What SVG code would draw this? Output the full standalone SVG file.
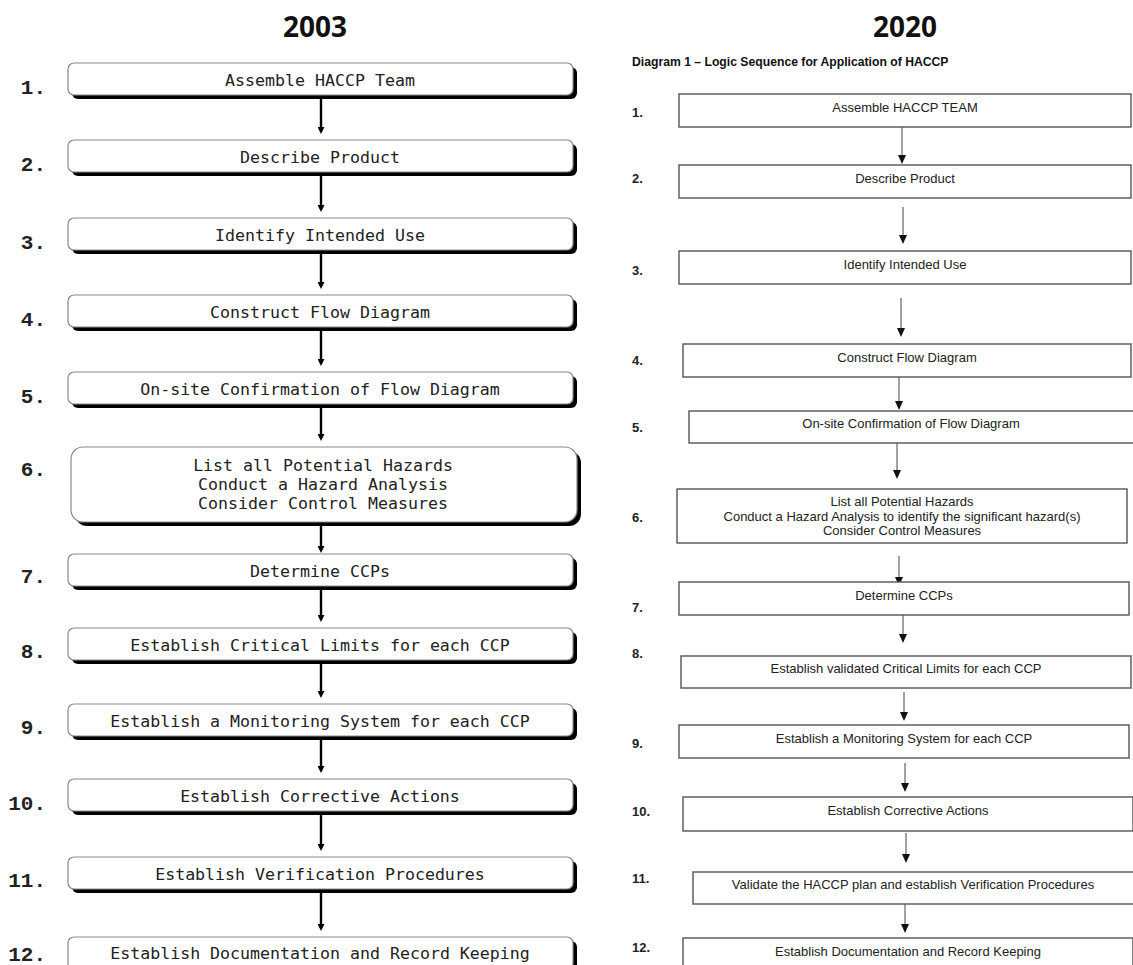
<svg xmlns="http://www.w3.org/2000/svg" width="1133" height="965" viewBox="0 0 1133 965">
<defs>
<style>
.yr{font-family:"Open Sans","DejaVu Sans",sans-serif;font-weight:700;font-size:28px;fill:#111;text-anchor:middle}
.ln{font-family:"Liberation Mono","Courier New",monospace;font-weight:700;font-size:21px;fill:#222;text-anchor:end}
.lt{font-family:"DejaVu Sans Mono",monospace;font-size:16.6px;fill:#222;text-anchor:middle}
.sh{fill:#000}
.lb{fill:#fff;stroke:#8a8a8a;stroke-width:1.2}
.rn{font-family:"Liberation Sans",Arial,sans-serif;font-weight:700;font-size:13px;fill:#222}
.rt{font-family:"Liberation Sans",Arial,sans-serif;font-size:13px;fill:#222;text-anchor:middle}
.rb{fill:#fff;stroke:#555;stroke-width:1.4}
.la{stroke:#000;stroke-width:2.4;fill:none}
.ra{stroke:#444;stroke-width:1;fill:none}
</style>
<marker id="ahL" markerUnits="userSpaceOnUse" viewBox="0 0 7 7" markerWidth="7" markerHeight="7" refX="4" refY="3.5" orient="auto"><path d="M0,0 L7,3.5 L0,7 z" fill="#000"/></marker>
<marker id="ahR" markerUnits="userSpaceOnUse" viewBox="0 0 9 8" markerWidth="9" markerHeight="8" refX="7" refY="4" orient="auto"><path d="M0,0 L9,4 L0,8 z" fill="#111"/></marker>
</defs>
<rect width="1133" height="965" fill="#fff"/>

<text class="yr" x="315" y="37">2003</text>
<text class="yr" x="905" y="37">2020</text>
<text x="632" y="66" font-family="Liberation Sans, Arial, sans-serif" font-weight="700" font-size="12.2" fill="#111">Diagram 1 – Logic Sequence for Application of HACCP</text>

<g id="connectors-2003">
<path class="la" d="M321,99 V131" marker-end="url(#ahL)"/>
<path class="la" d="M321,176 V209" marker-end="url(#ahL)"/>
<path class="la" d="M321,254 V286" marker-end="url(#ahL)"/>
<path class="la" d="M321,331 V363" marker-end="url(#ahL)"/>
<path class="la" d="M321,408 V438" marker-end="url(#ahL)"/>
<path class="la" d="M321,526 V550" marker-end="url(#ahL)"/>
<path class="la" d="M321,590 V619" marker-end="url(#ahL)"/>
<path class="la" d="M321,664 V695" marker-end="url(#ahL)"/>
<path class="la" d="M321,740 V770" marker-end="url(#ahL)"/>
<path class="la" d="M321,815 V848" marker-end="url(#ahL)"/>
<path class="la" d="M321,893 V928" marker-end="url(#ahL)"/>
</g>

<g id="connectors-2020">
<path class="ra" d="M902,127 V162" marker-end="url(#ahR)"/>
<path class="ra" d="M903,207 V242" marker-end="url(#ahR)"/>
<path class="ra" d="M901,298 V335" marker-end="url(#ahR)"/>
<path class="ra" d="M899,377 V408" marker-end="url(#ahR)"/>
<path class="ra" d="M897,443 V477" marker-end="url(#ahR)"/>
<path class="ra" d="M899,556 V584" marker-end="url(#ahR)"/>
<path class="ra" d="M903,615 V641" marker-end="url(#ahR)"/>
<path class="ra" d="M904,692 V719" marker-end="url(#ahR)"/>
<path class="ra" d="M905,763 V790" marker-end="url(#ahR)"/>
<path class="ra" d="M906,833 V861" marker-end="url(#ahR)"/>
<path class="ra" d="M905,904 V931" marker-end="url(#ahR)"/>
</g>

<g id="L1"><text class="ln" x="46" y="94">1.</text><rect class="sh" x="72" y="67" width="505" height="32" rx="6"/><rect class="lb" x="68" y="63" width="505" height="32" rx="6"/><text class="lt" x="320" y="86">Assemble HACCP Team</text></g>
<g id="L2"><text class="ln" x="46" y="171">2.</text><rect class="sh" x="72" y="144" width="505" height="32" rx="6"/><rect class="lb" x="68" y="140" width="505" height="32" rx="6"/><text class="lt" x="320" y="163">Describe Product</text></g>
<g id="L3"><text class="ln" x="46" y="249">3.</text><rect class="sh" x="72" y="222" width="505" height="32" rx="6"/><rect class="lb" x="68" y="218" width="505" height="32" rx="6"/><text class="lt" x="320" y="241">Identify Intended Use</text></g>
<g id="L4"><text class="ln" x="46" y="326">4.</text><rect class="sh" x="72" y="299" width="505" height="32" rx="6"/><rect class="lb" x="68" y="295" width="505" height="32" rx="6"/><text class="lt" x="320" y="318">Construct Flow Diagram</text></g>
<g id="L5"><text class="ln" x="46" y="403">5.</text><rect class="sh" x="72" y="376" width="505" height="32" rx="6"/><rect class="lb" x="68" y="372" width="505" height="32" rx="6"/><text class="lt" x="320" y="395">On-site Confirmation of Flow Diagram</text></g>
<g id="L6"><text class="ln" x="46" y="476">6.</text><rect class="sh" x="75" y="451" width="506" height="75" rx="12"/><rect class="lb" x="71" y="447" width="506" height="75" rx="12"/><text class="lt" x="323" y="471">List all Potential Hazards</text><text class="lt" x="323" y="490">Conduct a Hazard Analysis</text><text class="lt" x="323" y="509">Consider Control Measures</text></g>
<g id="L7"><text class="ln" x="46" y="583">7.</text><rect class="sh" x="72" y="558" width="505" height="32" rx="6"/><rect class="lb" x="68" y="554" width="505" height="32" rx="6"/><text class="lt" x="320" y="577">Determine CCPs</text></g>
<g id="L8"><text class="ln" x="46" y="658">8.</text><rect class="sh" x="72" y="632" width="505" height="32" rx="6"/><rect class="lb" x="68" y="628" width="505" height="32" rx="6"/><text class="lt" x="320" y="651">Establish Critical Limits for each CCP</text></g>
<g id="L9"><text class="ln" x="46" y="734">9.</text><rect class="sh" x="72" y="708" width="505" height="32" rx="6"/><rect class="lb" x="68" y="704" width="505" height="32" rx="6"/><text class="lt" x="320" y="727">Establish a Monitoring System for each CCP</text></g>
<g id="L10"><text class="ln" x="46" y="810">10.</text><rect class="sh" x="72" y="783" width="505" height="32" rx="6"/><rect class="lb" x="68" y="779" width="505" height="32" rx="6"/><text class="lt" x="320" y="802">Establish Corrective Actions</text></g>
<g id="L11"><text class="ln" x="46" y="887">11.</text><rect class="sh" x="72" y="861" width="505" height="32" rx="6"/><rect class="lb" x="68" y="857" width="505" height="32" rx="6"/><text class="lt" x="320" y="880">Establish Verification Procedures</text></g>
<g id="L12"><text class="ln" x="46" y="961">12.</text><rect class="sh" x="72" y="941" width="505" height="32" rx="6"/><rect class="lb" x="68" y="937" width="505" height="32" rx="6"/><text class="lt" x="320" y="959">Establish Documentation and Record Keeping</text></g>

<g id="R1"><text class="rn" x="632" y="117">1.</text><rect class="rb" x="679" y="94" width="452" height="33"/><text class="rt" x="905" y="112">Assemble HACCP TEAM</text></g>
<g id="R2"><text class="rn" x="632" y="183">2.</text><rect class="rb" x="679" y="165" width="452" height="33"/><text class="rt" x="905" y="183">Describe Product</text></g>
<g id="R3"><text class="rn" x="632" y="275">3.</text><rect class="rb" x="679" y="251" width="452" height="33"/><text class="rt" x="905" y="269">Identify Intended Use</text></g>
<g id="R4"><text class="rn" x="632" y="365">4.</text><rect class="rb" x="683" y="344" width="448" height="33"/><text class="rt" x="907" y="362">Construct Flow Diagram</text></g>
<g id="R5"><text class="rn" x="632" y="432">5.</text><rect class="rb" x="689" y="411" width="452" height="32"/><text class="rt" x="911" y="428">On-site Confirmation of Flow Diagram</text></g>
<g id="R6"><text class="rn" x="632" y="522">6.</text><rect class="rb" x="677" y="489" width="450" height="54"/><text class="rt" x="902" y="506">List all Potential Hazards</text><text class="rt" x="902" y="521">Conduct a Hazard Analysis to identify the significant hazard(s)</text><text class="rt" x="902" y="535">Consider Control Measures</text></g>
<g id="R7"><text class="rn" x="632" y="612">7.</text><rect class="rb" x="679" y="582" width="450" height="33"/><text class="rt" x="904" y="600">Determine CCPs</text></g>
<g id="R8"><text class="rn" x="632" y="658">8.</text><rect class="rb" x="681" y="656" width="450" height="32"/><text class="rt" x="906" y="673">Establish validated Critical Limits for each CCP</text></g>
<g id="R9"><text class="rn" x="632" y="748">9.</text><rect class="rb" x="679" y="725" width="450" height="33"/><text class="rt" x="904" y="743">Establish a Monitoring System for each CCP</text></g>
<g id="R10"><text class="rn" x="632" y="816">10.</text><rect class="rb" x="683" y="797" width="450" height="34"/><text class="rt" x="908" y="815">Establish Corrective Actions</text></g>
<g id="R11"><text class="rn" x="632" y="883">11.</text><rect class="rb" x="693" y="872" width="450" height="32"/><text class="rt" x="913" y="889">Validate the HACCP plan and establish Verification Procedures</text></g>
<g id="R12"><text class="rn" x="632" y="952">12.</text><rect class="rb" x="683" y="938" width="450" height="35"/><text class="rt" x="908" y="956">Establish Documentation and Record Keeping</text></g>
</svg>
